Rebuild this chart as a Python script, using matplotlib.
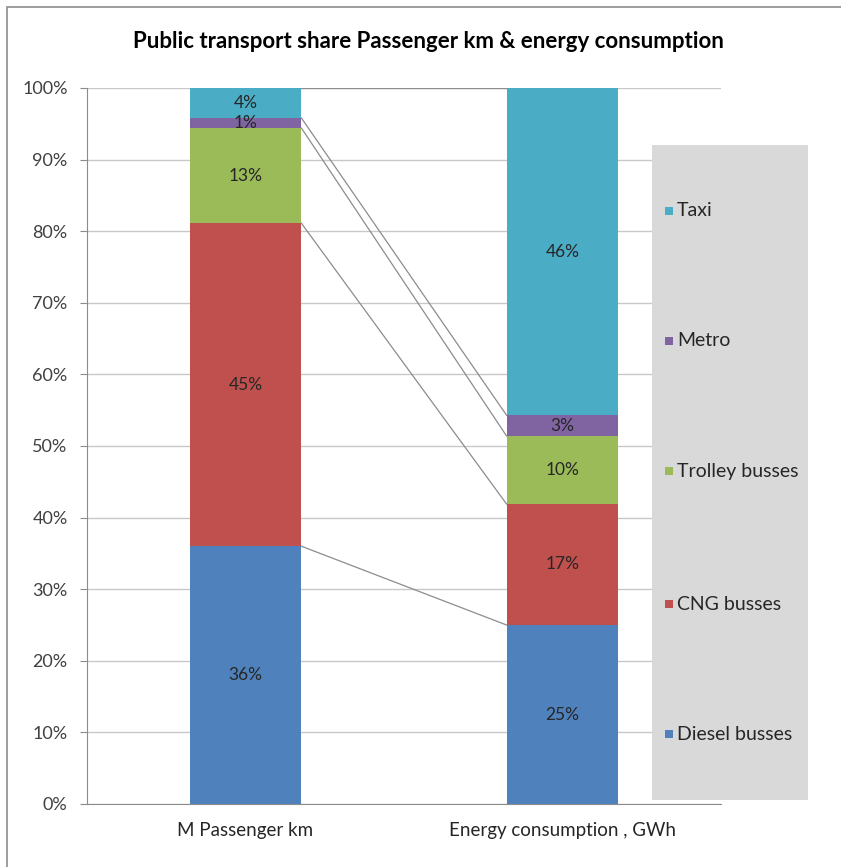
import matplotlib
matplotlib.use("Agg")
import matplotlib.pyplot as plt
from matplotlib.patches import Rectangle
import numpy as np

plt.rcParams['font.family'] = ['Lato', 'DejaVu Sans']

categories = ["M Passenger km", "Energy consumption , GWh"]
series = ["Diesel busses", "CNG busses", "Trolley busses", "Metro", "Taxi"]
values = {
    "Diesel busses": [36.0, 25.0],
    "CNG busses": [45.1, 16.9],
    "Trolley busses": [13.3, 9.5],
    "Metro": [1.4, 2.9],
    "Taxi": [4.2, 45.7],
}
colors = {
    "Diesel busses": "#4F81BD",
    "CNG busses": "#C0504D",
    "Trolley busses": "#9BBB59",
    "Metro": "#8064A2",
    "Taxi": "#4BACC6",
}
yticks = [0, 10, 20, 30, 40, 50, 60, 70, 80, 90, 100]
title = "Public transport share Passenger km & energy consumption"

W, H = 841, 867
fig = plt.figure(figsize=(W / 100, H / 100), dpi=100)
fig.patch.set_facecolor("white")

# chart area border
fig.patches.append(Rectangle((7 / W, -0.05), 1.2, 1 - 7 / H + 0.05,
                             transform=fig.transFigure, fill=False,
                             edgecolor="#8C8C8C", linewidth=1.2))

left, right, bottom, top = 87, 721, 804, 88
ax = fig.add_axes([left / W, (H - bottom) / H, (right - left) / W, (bottom - top) / H])

x = np.arange(len(categories))
bw = 0.353
totals = np.sum([values[s] for s in series], axis=0)
base = np.zeros(len(categories))
tops = []
for s in series:
    v = np.array(values[s]) / totals * 100
    ax.bar(x, v, bw, bottom=base, color=colors[s], zorder=3, label=s)
    for xi, vi, bi in zip(x, v, base):
        ax.text(xi, bi + vi / 2, f"{vi:.0f}%", ha="center", va="center",
                fontsize=12.5, color="#262626", zorder=5)
    base = base + v
    tops.append(base.copy())

# series lines between the stacks
for t in tops:
    ax.plot([x[0] + bw / 2, x[1] - bw / 2], [t[0], t[1]], color="#8C8C8C",
            linewidth=0.9, zorder=2)

ax.set_xlim(-0.5, 1.5)
ax.set_ylim(0, 100)
ax.set_yticks(yticks)
ax.set_yticklabels([f"{t}%" for t in yticks])
ax.set_xticks(x)
ax.set_xticklabels(categories)
ax.yaxis.grid(True, color="#C8C8C8", linewidth=1, zorder=0)
ax.set_axisbelow(True)
for sp in ["top", "right"]:
    ax.spines[sp].set_visible(False)
ax.spines["left"].set_color("#8C8C8C")
ax.spines["bottom"].set_color("#8C8C8C")
ax.tick_params(axis="y", length=5, color="#8C8C8C", labelsize=13,
               labelcolor="#404040", pad=9)
ax.tick_params(axis="x", length=0, labelsize=13.5, labelcolor="#262626", pad=13)

fig.text(428 / W, 1 - 42 / H, title, ha="center", va="center",
         fontsize=16, fontweight="bold", color="#000000")

# legend panel
lx0, lx1, ly0, ly1 = 652, 808, 145, 800
fig.patches.append(Rectangle((lx0 / W, 1 - ly1 / H), (lx1 - lx0) / W, (ly1 - ly0) / H,
                             transform=fig.transFigure, facecolor="#D9D9D9",
                             edgecolor="none", zorder=10))
leg_y = {"Taxi": 211, "Metro": 341, "Trolley busses": 471,
         "CNG busses": 604, "Diesel busses": 734}
for s in series:
    yy = leg_y[s]
    fig.patches.append(Rectangle((665 / W, 1 - (yy + 4) / H), 8 / W, 8 / H,
                                 transform=fig.transFigure, facecolor=colors[s],
                                 edgecolor="none", zorder=11))
    fig.text(677 / W, 1 - yy / H, s, ha="left", va="center", fontsize=14,
             color="#262626", zorder=12)

fig.savefig("out.png", dpi=100)
